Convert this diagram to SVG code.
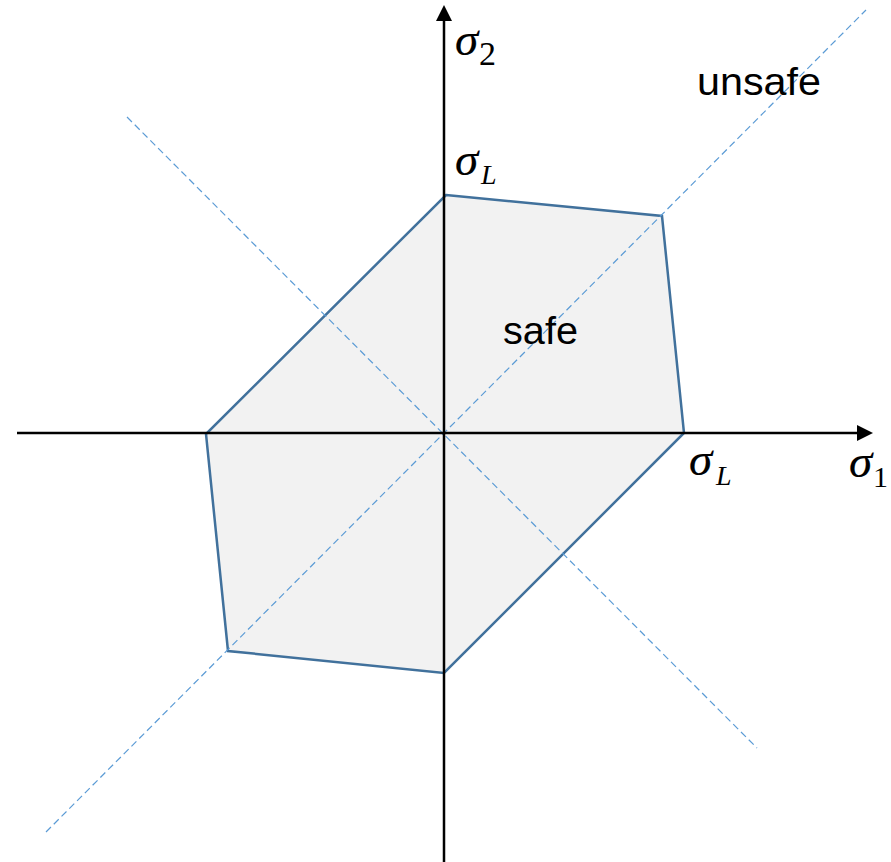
<svg xmlns="http://www.w3.org/2000/svg" width="891" height="862" viewBox="0 0 891 862">
<style>
.math{font-family:"Liberation Serif","DejaVu Serif",serif;font-style:italic;fill:#000}
.sub{font-family:"Liberation Serif","DejaVu Serif",serif;fill:#000}
.lbl{font-family:"Liberation Sans","Noto Sans",sans-serif;fill:#000}
.dash{stroke:#5B9BD5;stroke-width:1.2;stroke-dasharray:7 4;fill:none}
.axis{stroke:#000;stroke-width:2.5;fill:none}
</style>
<rect width="891" height="862" fill="#fff"/>
<g id="region">
<polygon points="446,195 662,216 684,433 444,673 228,651 206,434" fill="#F2F2F2" stroke="#41719C" stroke-width="2.5" stroke-linejoin="miter"/>
</g>
<g id="connectors">
<line class="dash" x1="46" y1="832" x2="866" y2="10"/>
<line class="dash" x1="127" y1="117" x2="757" y2="748"/>
<line class="axis" x1="17" y1="433" x2="860" y2="433"/>
<polygon points="873,433 857,425 857,441" fill="#000"/>
<line class="axis" x1="444" y1="862" x2="444" y2="18"/>
<polygon points="444,5 436,21 452,21" fill="#000"/>
</g>
<g id="labels">
<text class="math" x="455" y="55" font-size="47" stroke="#000" stroke-width="0.2">σ</text><text class="sub" x="479" y="65" font-size="34">2</text>
<text class="math" x="455" y="175" font-size="47" stroke="#000" stroke-width="0.2">σ</text><text class="math" x="481" y="184" font-size="28">L</text>
<text class="math" x="689" y="475" font-size="47" stroke="#000" stroke-width="0.2">σ</text><text class="math" x="716" y="485" font-size="28">L</text>
<text class="math" x="849" y="477" font-size="47" stroke="#000" stroke-width="0.2">σ</text><text class="sub" x="873" y="487" font-size="30">1</text>
<text class="lbl" x="697" y="95" font-size="38" textLength="124" lengthAdjust="spacingAndGlyphs">unsafe</text>
<text class="lbl" x="503" y="344" font-size="38" textLength="75" lengthAdjust="spacingAndGlyphs">safe</text>
</g>
</svg>
